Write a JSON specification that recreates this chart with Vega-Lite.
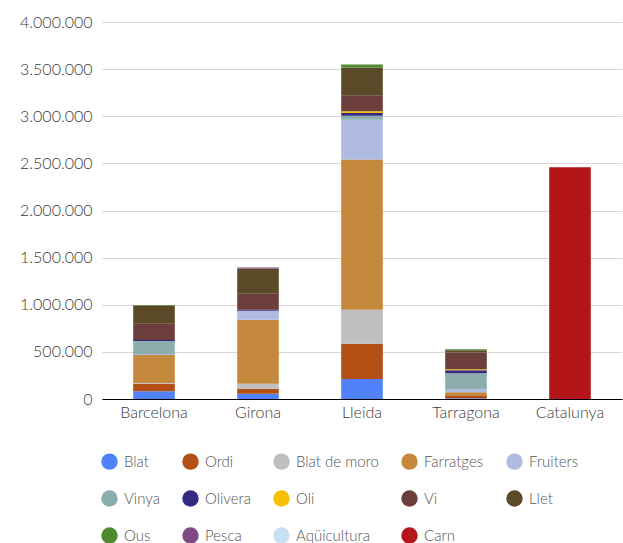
{
  "$schema": "https://vega.github.io/schema/vega-lite/v6.json",
  "width": 520,
  "height": 377,
  "autosize": {"type": "none"},
  "padding": {"left": 102, "top": 22, "right": 1, "bottom": 144},
  "config": {
    "font": "Lato",
    "locale": {"number": {"decimal": ",", "thousands": ".", "grouping": [3], "currency": ["", " €"]}},
    "view": {"stroke": null},
    "axis": {"labelFont": "Lato", "labelFontSize": 16, "labelFontWeight": 300, "labelColor": "#3a3a3a", "titleFont": "Lato"},
    "legend": {"labelFont": "Lato", "labelFontWeight": 300}
  },
  "data": {
    "values": [
      {"territori": "Barcelona", "producte": "Blat", "valor": 81000},
      {"territori": "Barcelona", "producte": "Ordi", "valor": 80000},
      {"territori": "Barcelona", "producte": "Blat de moro", "valor": 10000},
      {"territori": "Barcelona", "producte": "Farratges", "valor": 297000},
      {"territori": "Barcelona", "producte": "Fruiters", "valor": 10000},
      {"territori": "Barcelona", "producte": "Vinya", "valor": 138000},
      {"territori": "Barcelona", "producte": "Olivera", "valor": 10000},
      {"territori": "Barcelona", "producte": "Vi", "valor": 177000},
      {"territori": "Barcelona", "producte": "Llet", "valor": 188000},
      {"territori": "Barcelona", "producte": "Ous", "valor": 7000},
      {"territori": "Girona", "producte": "Blat", "valor": 56000},
      {"territori": "Girona", "producte": "Ordi", "valor": 53000},
      {"territori": "Girona", "producte": "Blat de moro", "valor": 53000},
      {"territori": "Girona", "producte": "Farratges", "valor": 679000},
      {"territori": "Girona", "producte": "Fruiters", "valor": 95000},
      {"territori": "Girona", "producte": "Olivera", "valor": 10000},
      {"territori": "Girona", "producte": "Vi", "valor": 170000},
      {"territori": "Girona", "producte": "Llet", "valor": 268000},
      {"territori": "Girona", "producte": "Pesca", "valor": 10000},
      {"territori": "Lleida", "producte": "Blat", "valor": 212000},
      {"territori": "Lleida", "producte": "Ordi", "valor": 375000},
      {"territori": "Lleida", "producte": "Blat de moro", "valor": 361000},
      {"territori": "Lleida", "producte": "Farratges", "valor": 1592000},
      {"territori": "Lleida", "producte": "Fruiters", "valor": 424000},
      {"territori": "Lleida", "producte": "Vinya", "valor": 42000},
      {"territori": "Lleida", "producte": "Olivera", "valor": 28000},
      {"territori": "Lleida", "producte": "Oli", "valor": 18000},
      {"territori": "Lleida", "producte": "Vi", "valor": 170000},
      {"territori": "Lleida", "producte": "Llet", "valor": 294000},
      {"territori": "Lleida", "producte": "Ous", "valor": 32000},
      {"territori": "Tarragona", "producte": "Blat", "valor": 8000},
      {"territori": "Tarragona", "producte": "Ordi", "valor": 32000},
      {"territori": "Tarragona", "producte": "Farratges", "valor": 32000},
      {"territori": "Tarragona", "producte": "Fruiters", "valor": 28000},
      {"territori": "Tarragona", "producte": "Vinya", "valor": 173000},
      {"territori": "Tarragona", "producte": "Olivera", "valor": 32000},
      {"territori": "Tarragona", "producte": "Oli", "valor": 11000},
      {"territori": "Tarragona", "producte": "Vi", "valor": 177000},
      {"territori": "Tarragona", "producte": "Llet", "valor": 25000},
      {"territori": "Tarragona", "producte": "Ous", "valor": 11000},
      {"territori": "Catalunya", "producte": "Carn", "valor": 2460000}
    ]
  },
  "transform": [
    {"calculate": "indexof(['Blat','Ordi','Blat de moro','Farratges','Fruiters','Vinya','Olivera','Oli','Vi','Llet','Ous','Pesca','Aqüicultura','Carn'], datum.producte)", "as": "ordre"}
  ],
  "mark": {"type": "bar"},
  "encoding": {
    "x": {
      "field": "territori",
      "type": "nominal",
      "sort": ["Barcelona", "Girona", "Lleida", "Tarragona", "Catalunya"],
      "scale": {"paddingInner": 0.6, "paddingOuter": 0.3},
      "axis": {
        "title": null,
        "labelAngle": 0,
        "ticks": false,
        "domainColor": "#000000",
        "domainWidth": 1,
        "labelPadding": 5
      }
    },
    "y": {
      "field": "valor",
      "type": "quantitative",
      "stack": "zero",
      "scale": {"domain": [0, 4000000], "nice": false},
      "axis": {
        "title": null,
        "values": [0, 500000, 1000000, 1500000, 2000000, 2500000, 3000000, 3500000, 4000000],
        "format": ",d",
        "domain": false,
        "ticks": false,
        "labelPadding": 10,
        "gridColor": "#dcd8d0",
        "gridWidth": 1
      }
    },
    "order": {"field": "ordre", "type": "quantitative", "sort": "ascending"},
    "color": {
      "field": "producte",
      "type": "nominal",
      "sort": ["Blat", "Ordi", "Blat de moro", "Farratges", "Fruiters", "Vinya", "Olivera", "Oli", "Vi", "Llet", "Ous", "Pesca", "Aqüicultura", "Carn"],
      "scale": {
        "domain": ["Blat", "Ordi", "Blat de moro", "Farratges", "Fruiters", "Vinya", "Olivera", "Oli", "Vi", "Llet", "Ous", "Pesca", "Aqüicultura", "Carn"],
        "range": ["#5083fb", "#b44f16", "#bfbfbf", "#c4893d", "#afbbe0", "#8badae", "#332a82", "#f6bf00", "#6b3d3b", "#5a4a27", "#4f8b2e", "#7e4a82", "#c6e1f4", "#b31519"]
      },
      "legend": {
        "title": null,
        "orient": "none",
        "legendX": -1,
        "legendY": 431,
        "direction": "horizontal",
        "columns": 5,
        "symbolType": "circle",
        "symbolSize": 270,
        "symbolStrokeWidth": 0,
        "labelFontSize": 15,
        "labelColor": "#555555",
        "labelOffset": 6,
        "columnPadding": 22,
        "rowPadding": 20
      }
    }
  }
}
